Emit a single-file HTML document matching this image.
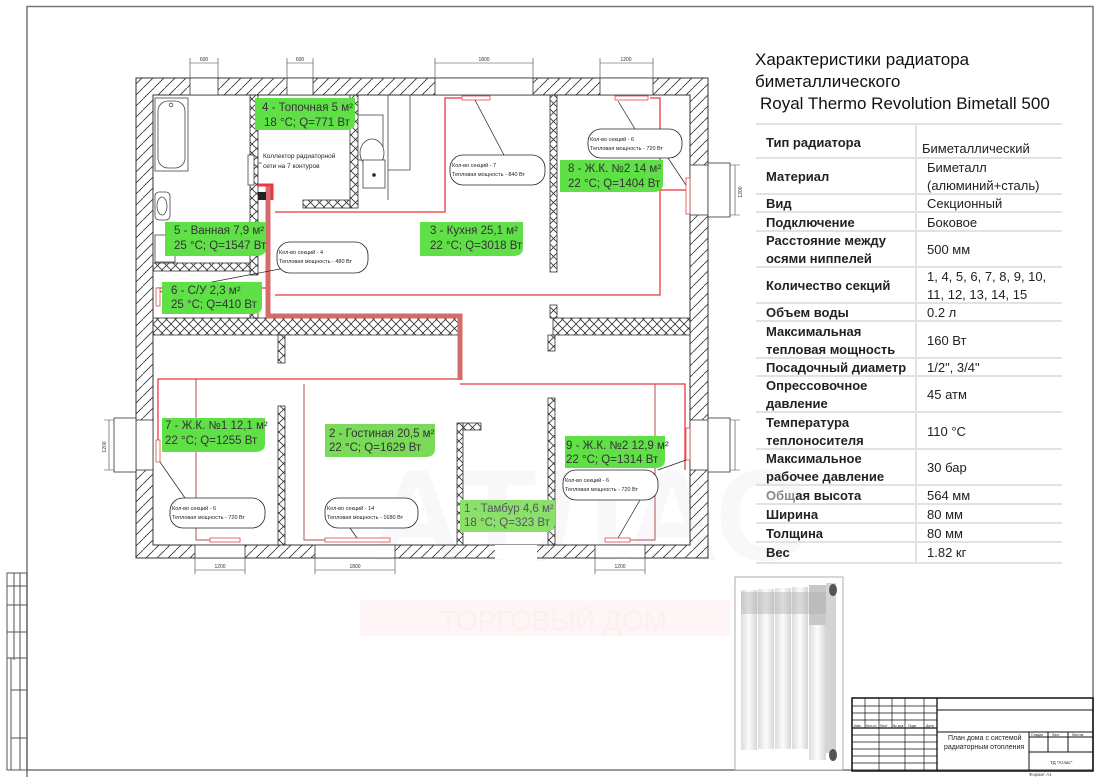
<!DOCTYPE html>
<html><head><meta charset="utf-8">
<style>
html,body{margin:0;padding:0;background:#fff;}
body{width:1100px;height:777px;position:relative;overflow:hidden;font-family:"Liberation Sans","DejaVu Sans",sans-serif;}
.t{position:absolute;font-size:17px;color:#111;white-space:nowrap;}
.tb{position:absolute;left:756px;top:123px;width:307px;}
.row{position:absolute;left:0;width:306px;border-top:2px solid #e2e2e2;}
.c1{position:absolute;left:0;width:161px;top:0;bottom:0;border-right:2px solid #e2e2e2;font-weight:bold;font-size:13px;color:#222;padding-left:10px;box-sizing:border-box;display:flex;align-items:center;line-height:18px;}
.c2{position:absolute;left:163px;right:0;top:0;bottom:0;font-size:13px;color:#222;padding-left:8px;display:flex;align-items:center;line-height:18px;}
</style></head><body>
<svg width="1100" height="777" style="position:absolute;left:0;top:0" font-family="Liberation Sans, sans-serif">
<defs>
<pattern id="diag" width="11" height="11" patternUnits="userSpaceOnUse"><path d="M0 11 L11 0" stroke="#333" stroke-width="0.8"/></pattern>
<pattern id="cross" width="9" height="9" patternUnits="userSpaceOnUse"><path d="M0 0 L9 9 M9 0 L0 9" stroke="#333" stroke-width="0.8"/></pattern>
<linearGradient id="rg" x1="0" x2="1"><stop offset="0" stop-color="#dcdcdc"/><stop offset="0.5" stop-color="#fcfcfc"/><stop offset="1" stop-color="#d6d6d6"/></linearGradient>
</defs>
<path d="M27 777 V6.5 H1093 V770 H27" fill="none" stroke="#777" stroke-width="1.5"/>
<g stroke="#555" stroke-width="1" fill="none">
<rect x="7" y="573" width="20" height="197"/>
<line x1="14" y1="573" x2="14" y2="660"/><line x1="20" y1="573" x2="20" y2="770"/>
<line x1="7" y1="586" x2="27" y2="586"/><line x1="7" y1="605" x2="27" y2="605"/><line x1="7" y1="632" x2="27" y2="632"/><line x1="7" y1="658" x2="27" y2="658"/>
<line x1="11" y1="658" x2="11" y2="770"/>
<line x1="11" y1="690" x2="27" y2="690"/><line x1="11" y1="738" x2="27" y2="738"/>
</g>
<text x="370" y="560" font-size="130" font-weight="bold" fill="#f8f8fb">АТЛАС</text>
<rect x="360" y="600" width="370" height="36" fill="#fef6f6"/>
<text x="440" y="630" font-size="28" fill="#fcefef">ТОРГОВЫЙ ДОМ</text>
<path d="M136 78 H708 V558 H136 Z M153 95 V545 H690 V95 Z" fill="url(#diag)" fill-rule="evenodd" stroke="#333" stroke-width="1"/>
<g fill="#fff" stroke="#333" stroke-width="0.8">
<rect x="190" y="78" width="28" height="17"/><rect x="287" y="78" width="26" height="17"/><rect x="435" y="78" width="98" height="17"/><rect x="600" y="78" width="53" height="17"/>
<rect x="195" y="545" width="50" height="13"/><rect x="315" y="545" width="80" height="13"/><rect x="595" y="545" width="50" height="13"/>
<rect x="495" y="545" width="42" height="14" stroke="none"/>
<rect x="690" y="165" width="18" height="50"/><rect x="708" y="163" width="22" height="54"/>
<rect x="690" y="420" width="18" height="50"/><rect x="708" y="418" width="22" height="54"/>
<rect x="136" y="420" width="17" height="50"/><rect x="114" y="418" width="22" height="54"/>
</g>
<g stroke="#444" stroke-width="0.6" fill="none">
<path d="M190 78 V58 M218 78 V58 M190 63 H218"/><path d="M287 78 V58 M313 78 V58 M287 63 H313"/>
<path d="M435 78 V58 M533 78 V58 M435 63 H533"/><path d="M600 78 V58 M653 78 V58 M600 63 H653"/>
<path d="M195 558 V574 M245 558 V574 M195 570 H245"/><path d="M315 558 V574 M395 558 V574 M315 570 H395"/>
<path d="M595 558 V574 M645 558 V574 M595 570 H645"/>
<path d="M730 165 H740 M730 215 H740 M735 165 V215"/><path d="M730 420 H740 M730 470 H740 M735 420 V470"/>
<path d="M114 420 H104 M114 470 H104 M109 420 V470"/>
</g>
<g font-size="5" fill="#333" text-anchor="middle">
<text x="204" y="61">600</text><text x="300" y="61">600</text><text x="484" y="61">1800</text><text x="626" y="61">1200</text>
<text x="220" y="568">1200</text><text x="355" y="568">1800</text><text x="620" y="568">1200</text>
<text x="742" y="192" transform="rotate(-90 742 192)">1200</text>
<text x="106" y="447" transform="rotate(-90 106 447)">1200</text>
</g>
<g fill="url(#cross)" stroke="#333" stroke-width="0.8">
<rect x="153" y="318" width="307" height="17"/><rect x="553" y="318" width="137" height="17"/>
<rect x="153" y="263" width="97" height="8"/>
<rect x="250" y="95" width="8" height="180"/><rect x="250" y="298" width="8" height="20"/>
<rect x="350" y="95" width="8" height="113"/><rect x="303" y="200" width="47" height="8"/>
<rect x="550" y="95" width="7" height="177"/><rect x="550" y="305" width="7" height="13"/>
<rect x="278" y="335" width="7" height="28"/><rect x="278" y="406" width="7" height="139"/>
<rect x="548" y="335" width="7" height="16"/><rect x="548" y="398" width="7" height="147"/>
<rect x="457" y="423" width="6" height="122"/><rect x="463" y="423" width="18" height="7"/>
</g>
<g fill="#fff" stroke="#444" stroke-width="0.8">
<rect x="155" y="98" width="33" height="73"/><rect x="158" y="101" width="27" height="67" rx="10"/>
<circle cx="171" cy="105" r="1.8"/>
<rect x="155" y="192" width="15" height="28" rx="4"/><ellipse cx="162" cy="206" rx="5" ry="9"/>
<rect x="155" y="235" width="20" height="27"/>
<rect x="358" y="115" width="25" height="45"/><ellipse cx="372" cy="153" rx="12" ry="14"/>
<rect x="363" y="160" width="22" height="28"/><circle cx="374" cy="175" r="1.5" fill="#222"/>
<path d="M388 95 V200 M388 170 H410 V95" fill="none"/>
<rect x="248" y="155" width="6" height="30"/>
</g>
<g fill="none" stroke="#e8383f" stroke-width="1.3">
<path d="M275 212 H445 V98 H462"/>
<path d="M275 295 H660 V98 H650"/>
<path d="M660 190 H688 V178"/>
<path d="M268 288 H158 V305"/>
<path d="M460 379 H158 V455"/>
<path d="M196 379 V540 H210" stroke="#b05050" stroke-width="1"/>
<path d="M460 384 H685 V470"/>
<path d="M304 384 V540 H325" stroke="#b05050" stroke-width="1"/>
<path d="M655 384 V540 H630" stroke="#b05050" stroke-width="1"/>
</g>
<path d="M268 185 V316 H460 V380" fill="none" stroke="#d76a6a" stroke-width="5"/>
<path d="M258 185 H272 V200" fill="none" stroke="#e8383f" stroke-width="3"/>
<rect x="258" y="192" width="8" height="8" fill="#222"/>
<g fill="#fff" stroke="#e04a50" stroke-width="0.8">
<rect x="462" y="96" width="28" height="4"/><rect x="615" y="96" width="33" height="4"/>
<rect x="686" y="178" width="4" height="36"/><rect x="156" y="288" width="4" height="18"/>
<rect x="156" y="440" width="4" height="22"/><rect x="210" y="538" width="30" height="4"/>
<rect x="325" y="538" width="65" height="4"/><rect x="605" y="538" width="25" height="4"/>
<rect x="686" y="428" width="4" height="32"/>
</g>
<g stroke="#222" stroke-width="0.7">
<line x1="475" y1="100" x2="505" y2="157"/><line x1="618" y1="101" x2="635" y2="129"/>
<line x1="668" y1="158" x2="686" y2="185"/><line x1="160" y1="292" x2="285" y2="268"/>
<line x1="160" y1="462" x2="185" y2="498"/><line x1="350" y1="528" x2="357" y2="538"/>
<line x1="640" y1="500" x2="618" y2="538"/><line x1="658" y1="470" x2="686" y2="460"/>
</g>
<g fill="#fff" stroke="#222" stroke-width="0.8">
<rect x="450" y="155" width="95" height="30" rx="13"/><rect x="588" y="129" width="94" height="29" rx="13"/>
<rect x="277" y="242" width="91" height="31" rx="13"/><rect x="170" y="498" width="95" height="30" rx="13"/>
<rect x="325" y="498" width="93" height="30" rx="13"/><rect x="563" y="470" width="95" height="30" rx="13"/>
</g>
<g font-size="5.5" fill="#222">
<text x="452" y="167">Кол-во секций - 7</text><text x="452" y="176">Тепловая мощность - 840 Вт</text>
<text x="590" y="141">Кол-во секций - 6</text><text x="590" y="150">Тепловая мощность - 720 Вт</text>
<text x="279" y="254">Кол-во секций - 4</text><text x="279" y="263">Тепловая мощность - 480 Вт</text>
<text x="172" y="510">Кол-во секций - 6</text><text x="172" y="519">Тепловая мощность - 720 Вт</text>
<text x="327" y="510">Кол-во секций - 14</text><text x="327" y="519">Тепловая мощность - 1680 Вт</text>
<text x="565" y="482">Кол-во секций - 6</text><text x="565" y="491">Тепловая мощность - 720 Вт</text>
</g>
<line x1="258" y1="163" x2="262" y2="163" stroke="#222" stroke-width="0.6"/>
<text x="263" y="158" font-size="6.5" fill="#222">Коллектор радиаторной</text>
<text x="263" y="168" font-size="6.5" fill="#222">сети на 7 контуров</text>
<g fill="#5fe047">
<path d="M255 98 H355 V122 Q355 130 345 130 H255 Z"/>
<path d="M165 222 H266 V248 Q266 256 256 256 H165 Z"/>
<path d="M162 282 H262 V306 Q262 314 252 314 H162 Z"/>
<path d="M420 222 H523 V248 Q523 256 513 256 H420 Z"/>
<path d="M560 160 H663 V184 Q663 192 653 192 H560 Z"/>
<path d="M162 418 H265 V444 Q265 452 255 452 H162 Z"/>
<path d="M325 424 H435 V449 Q435 457 425 457 H325 Z" fill="#7ada5a"/>
<path d="M565 436 H665 V460 Q665 468 655 468 H565 Z"/>
<path d="M460 500 H555 V524 Q555 532 545 532 H460 Z" fill="#8be06a"/>
</g>
<g font-size="11.5" fill="#333">
<text x="262" y="111">4 - Топочная 5 м²</text><text x="264" y="126">18 °C; Q=771 Вт</text>
<text x="174" y="234">5 - Ванная 7,9 м²</text><text x="174" y="249">25 °C; Q=1547 Вт</text>
<text x="171" y="294">6 - С/У 2,3 м²</text><text x="171" y="308">25 °C; Q=410 Вт</text>
<text x="430" y="234">3 - Кухня 25,1 м²</text><text x="430" y="249">22 °C; Q=3018 Вт</text>
<text x="568" y="172">8 - Ж.К. №2 14 м²</text><text x="568" y="187">22 °C; Q=1404 Вт</text>
<text x="165" y="429">7 - Ж.К. №1 12,1 м²</text><text x="165" y="444">22 °C; Q=1255 Вт</text>
<text x="329" y="437">2 - Гостиная 20,5 м²</text><text x="329" y="451">22 °C; Q=1629 Вт</text>
<text x="566" y="449">9 - Ж.К. №2 12,9 м²</text><text x="566" y="463">22 °C; Q=1314 Вт</text>
<text x="464" y="512" fill="#556">1 - Тамбур 4,6 м²</text><text x="464" y="526" fill="#556">18 °C; Q=323 Вт</text>
</g>
<rect x="735" y="577" width="108" height="193" fill="#fff" stroke="#999" stroke-width="0.8"/>
<g>
<rect x="741" y="590" width="16" height="160" fill="url(#rg)"/><rect x="758" y="589" width="16" height="160" fill="url(#rg)"/>
<rect x="775" y="588" width="16" height="161" fill="url(#rg)"/><rect x="792" y="587" width="16" height="162" fill="url(#rg)"/>
<rect x="809" y="620" width="17" height="140" fill="url(#rg)"/><rect x="809" y="585" width="17" height="40" fill="#c8c8c8"/>
<rect x="826" y="583" width="10" height="170" fill="#d4d4d4"/>
<ellipse cx="833" cy="590" rx="4" ry="6" fill="#555"/><ellipse cx="833" cy="755" rx="4" ry="6" fill="#555"/>
<rect x="741" y="592" width="85" height="22" fill="#aaa" opacity="0.4"/>
</g>
<g stroke="#111" stroke-width="1" fill="none">
<rect x="852" y="698" width="241" height="73" stroke-width="1.5"/>
<line x1="937" y1="698" x2="937" y2="771" stroke-width="1.3"/>
<line x1="937" y1="710" x2="1093" y2="710"/><line x1="937" y1="732" x2="1093" y2="732"/>
<line x1="1029" y1="732" x2="1029" y2="771"/><line x1="1029" y1="752" x2="1093" y2="752"/>
<line x1="1029" y1="737" x2="1093" y2="737"/>
<line x1="1048" y1="732" x2="1048" y2="752"/><line x1="1068" y1="732" x2="1068" y2="752"/>
<g stroke-width="0.7">
<line x1="865" y1="698" x2="865" y2="728"/><line x1="879" y1="698" x2="879" y2="771"/>
<line x1="892" y1="698" x2="892" y2="728"/><line x1="905" y1="698" x2="905" y2="771"/><line x1="924" y1="698" x2="924" y2="771"/>
<line x1="852" y1="706" x2="937" y2="706"/><line x1="852" y1="713" x2="937" y2="713"/><line x1="852" y1="720" x2="937" y2="720"/>
<line x1="852" y1="728" x2="937" y2="728" stroke-width="1.2"/><line x1="852" y1="735" x2="937" y2="735"/>
<line x1="852" y1="742" x2="937" y2="742"/><line x1="852" y1="749" x2="937" y2="749"/><line x1="852" y1="756" x2="937" y2="756"/><line x1="852" y1="763" x2="937" y2="763"/>
</g></g>
<g font-size="3.5" fill="#222"><text x="854" y="727">Изм.</text><text x="866" y="727">Кол.уч</text><text x="880" y="727">Лист</text><text x="893" y="727">№ док</text><text x="908" y="727">Подп.</text><text x="926" y="727">Дата</text>
<text x="1031" y="736">Стадия</text><text x="1052" y="736">Лист</text><text x="1072" y="736">Листов</text></g>
<text x="948" y="740" font-size="7" fill="#222">План дома с системой</text>
<text x="944" y="749" font-size="7" fill="#222">радиаторным отопления</text>
<text x="1050" y="764" font-size="4.5" fill="#222">ТД "Атлас"</text>
<text x="1029" y="776" font-size="4.5" fill="#444">Формат А1</text>
</svg>
<div class="t" style="left:755px;top:50px;">Характеристики радиатора</div>
<div class="t" style="left:755px;top:72px;">биметаллического</div>
<div class="t" style="left:760px;top:94px;">Royal Thermo Revolution Bimetall 500</div>
<div class="tb">
<div class="row" style="top:0;height:34px"><div class="c1" style="align-items:flex-start;padding-top:9px">Тип радиатора</div><div class="c2" style="align-items:flex-end;padding-bottom:1px;padding-left:3px">Биметаллический</div></div>
<div class="row" style="top:34px;height:36px"><div class="c1">Материал</div><div class="c2">Биметалл<br>(алюминий+сталь)</div></div>
<div class="row" style="top:70px;height:18px"><div class="c1">Вид</div><div class="c2">Секционный</div></div>
<div class="row" style="top:88px;height:19px"><div class="c1">Подключение</div><div class="c2">Боковое</div></div>
<div class="row" style="top:107px;height:36px"><div class="c1">Расстояние между<br>осями ниппелей</div><div class="c2">500 мм</div></div>
<div class="row" style="top:143px;height:36px"><div class="c1">Количество секций</div><div class="c2">1, 4, 5, 6, 7, 8, 9, 10,<br>11, 12, 13, 14, 15</div></div>
<div class="row" style="top:179px;height:18px"><div class="c1">Объем воды</div><div class="c2">0.2 л</div></div>
<div class="row" style="top:197px;height:37px"><div class="c1">Максимальная<br>тепловая мощность</div><div class="c2">160 Вт</div></div>
<div class="row" style="top:234px;height:18px"><div class="c1">Посадочный диаметр</div><div class="c2">1/2", 3/4"</div></div>
<div class="row" style="top:252px;height:36px"><div class="c1">Опрессовочное<br>давление</div><div class="c2">45 атм</div></div>
<div class="row" style="top:288px;height:37px"><div class="c1">Температура<br>теплоносителя</div><div class="c2">110 °C</div></div>
<div class="row" style="top:325px;height:36px"><div class="c1">Максимальное<br>рабочее давление</div><div class="c2">30 бар</div></div>
<div class="row" style="top:361px;height:19px"><div class="c1"><span><span style="color:#888">Общ</span>ая высота</span></div><div class="c2">564 мм</div></div>
<div class="row" style="top:380px;height:19px"><div class="c1">Ширина</div><div class="c2">80 мм</div></div>
<div class="row" style="top:399px;height:19px"><div class="c1">Толщина</div><div class="c2">80 мм</div></div>
<div class="row" style="top:418px;height:19px;border-bottom:2px solid #e2e2e2"><div class="c1">Вес</div><div class="c2">1.82 кг</div></div>
</div>
</body></html>
